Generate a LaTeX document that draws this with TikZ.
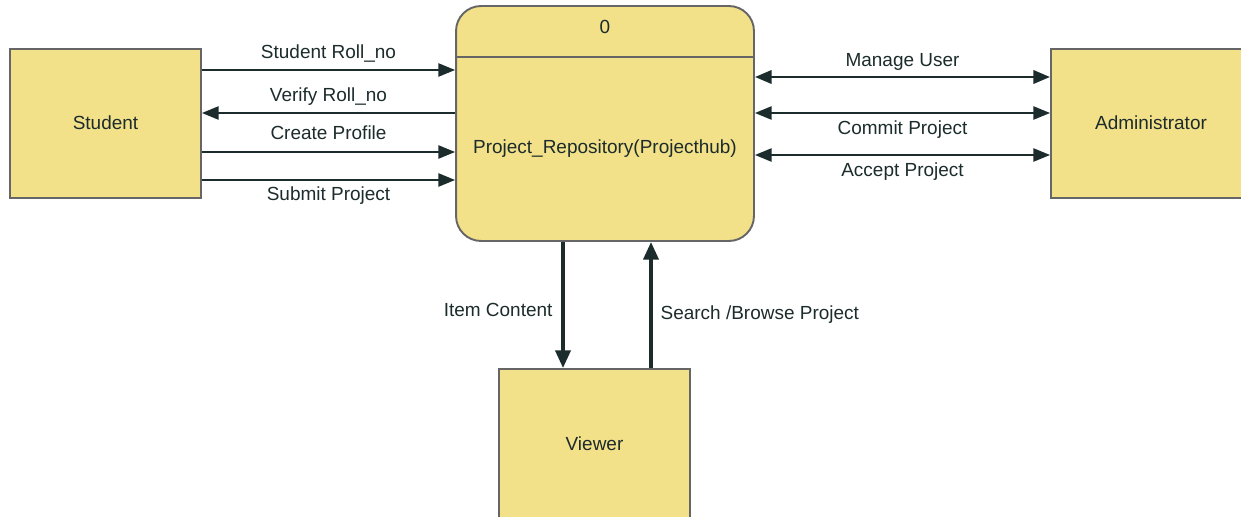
\documentclass[tikz,border=0pt]{standalone}
\usepackage{fontspec}
\setmainfont{Liberation Sans}
\usepackage{tikz}
\usetikzlibrary{arrows.meta}
\usepackage{xcolor}

\definecolor{boxfill}{HTML}{F3E18A}
\definecolor{boxline}{HTML}{666666}
\definecolor{flowline}{HTML}{1C2B2B}

\tikzset{
    entity/.style={draw=boxline, fill=boxfill, line width=1.1pt, minimum width=3.82cm, minimum height=2.98cm, text=flowline},
    process/.style={draw=boxline, fill=boxfill, line width=1.1pt, rounded corners=0.5cm, minimum width=5.96cm, minimum height=4.7cm},
    flow/.style={draw=flowline, line width=1.1pt, -{Triangle[length=9.5pt,width=7.5pt]}},
    vflow/.style={draw=flowline, line width=2pt, -{Triangle[length=10pt,width=8.5pt]}},
    dflow/.style={draw=flowline, line width=1.1pt, {Triangle[length=9.5pt,width=7.5pt]}-{Triangle[length=9.5pt,width=7.5pt]}},
    lbl/.style={text=flowline, inner sep=0pt, text height=8pt, text depth=2.5pt}
}

\begin{document}
\begin{tikzpicture}[x=0.02cm, y=-0.02cm, font=\fontsize{10.8pt}{13pt}\selectfont]
        \useasboundingbox (0,0) rectangle (1241,517);

        % the process and the three entities
        \node[process] (repo) at (605,123.5) {};
        \node[entity] (student) at (105.5,123.5) {\raisebox{1pt}{Student}};
        \node[entity, minimum width=4cm] (admin) at (1151,123.5) {\raisebox{1pt}{Administrator}};
        \node[entity, minimum height=3.02cm] (viewer) at (594.5,444.5) {\raisebox{1.5pt}{Viewer}};

        \draw[boxline, line width=1.1pt] (repo.west |- 0,57) -- (repo.east |- 0,57);
        \node[lbl] (pid) at (605,29) {0};
        \node[lbl] (pname) at (605,149) {Project\_Repository(Projecthub)};

        % student side
        \draw[flow] (student.east |- 0,70) -- node[lbl, above=3.5pt] {Student Roll\_no} (repo.west |- 0,70);
        \draw[flow] (repo.west |- 0,113) -- node[lbl, above=3.5pt] {Verify Roll\_no} (student.east |- 0,113);
        \draw[flow] (student.east |- 0,152) -- node[lbl, above=4pt] {Create Profile} (repo.west |- 0,152);
        \draw[flow] (student.east |- 0,180) -- node[lbl, below=3.3pt] {Submit Project} (repo.west |- 0,180);

        % administrator side
        \draw[dflow, line width=1.7pt] (repo.east |- 0,77) -- node[lbl, above=2.5pt] {Manage User} (admin.west |- 0,77);
        \draw[dflow] (repo.east |- 0,113) -- node[lbl, below=3.5pt] {Commit Project} (admin.west |- 0,113);
        \draw[dflow] (repo.east |- 0,155) -- node[lbl, below=3.5pt] {Accept Project} (admin.west |- 0,155);

        % viewer
        \draw[vflow] (repo.south -| 563,0) -- node[lbl, left=5pt, pos=0.55] {Item Content} (viewer.north -| 563,0);
        \draw[vflow] (viewer.north -| 651,0) -- node[lbl, right=4.5pt, pos=0.42] {Search /Browse Project} (repo.south -| 651,0);
    \end{tikzpicture}
\end{document}
